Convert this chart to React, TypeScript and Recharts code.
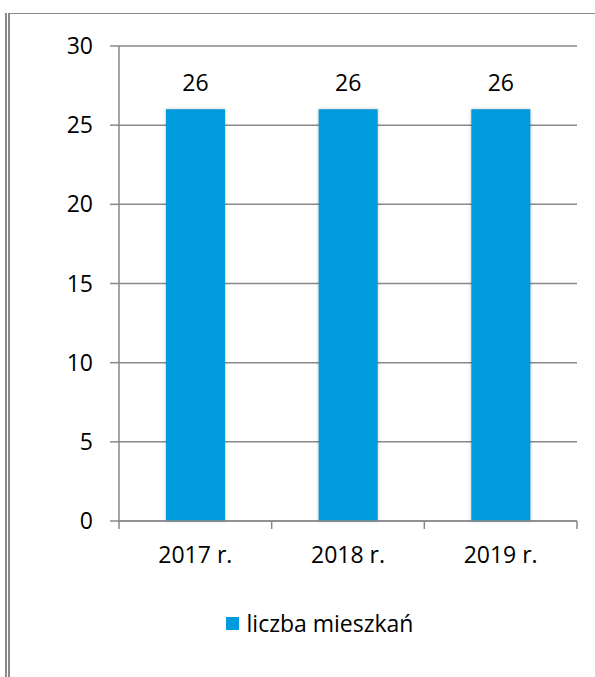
import React from 'react'
import { BarChart, Bar, XAxis, YAxis, CartesianGrid, Legend, LabelList } from 'recharts'

const years = ['2017 r.', '2018 r.', '2019 r.']
const flats = [26, 26, 26]
const yTicks = [0, 5, 10, 15, 20, 25, 30]
const seriesName = 'liczba mieszkań'

const data = years.map((year, i) => ({ year, flats: flats[i] }))

const W = 595
const H = 677
const margin = { top: 46, right: 18, bottom: 34, left: 0 }
const yAxisW = 119
const band = (W - margin.left - margin.right - yAxisW) / years.length

const GRAY = '#898989'
const BLUE = '#009BDD'
const FONT = '"Open Sans", sans-serif'
const FS = 23

const XTick = (props: any) => {
  const { x, y, payload, index } = props
  const axisY = y - 26
  const left = x - band / 2
  const right = x + band / 2
  return (
    <g>
      <line x1={left} x2={left} y1={axisY} y2={axisY + 8} stroke={GRAY} strokeWidth={1.5} />
      {index === years.length - 1 && (
        <line x1={right} x2={right} y1={axisY} y2={axisY + 8} stroke={GRAY} strokeWidth={1.5} />
      )}
      <text x={x} y={y} dy="0.71em" textAnchor="middle" fill="#000" fontSize={FS} fontFamily={FONT}>
        {payload.value}
      </text>
    </g>
  )
}

const LegendBox = () => (
  <div style={{ height: 40, display: 'flex', alignItems: 'center', justifyContent: 'center', paddingLeft: 62, fontFamily: FONT, fontSize: FS, color: '#000' }}>
    <span style={{ display: 'inline-block', width: 13, height: 13, background: BLUE, marginRight: 8 }} />
    <span>{seriesName}</span>
  </div>
)

const App = () => {
  return (
    <div style={{ position: 'absolute', left: 0, top: 0, width: W, height: H, background: '#fff' }}>
      <div style={{ position: 'absolute', left: 5, top: 13, width: 1.5, height: H - 13, background: GRAY }} />
      <div style={{ position: 'absolute', left: 8, top: 13, width: 1.5, height: H - 13, background: GRAY }} />
      <div style={{ position: 'absolute', left: 8, top: 12.5, width: W - 8, height: 1.5, background: GRAY }} />
      <div style={{ position: 'absolute', left: 0, top: 0 }}>
        <BarChart width={W} height={H} data={data} margin={margin}>
          <CartesianGrid vertical={false} stroke={GRAY} strokeWidth={1.5} />
          <XAxis
            dataKey="year"
            stroke={GRAY}
            strokeWidth={1.5}
            tickLine={false}
            tickSize={8}
            tickMargin={18}
            height={82}
            tick={<XTick />}
            interval={0}
          />
          <YAxis
            width={yAxisW}
            domain={[0, 30]}
            ticks={yTicks}
            stroke={GRAY}
            strokeWidth={1.5}
            tickSize={9}
            tickMargin={17}
            tick={{ fill: '#000', fontSize: FS, fontFamily: FONT }}
            tickLine={{ stroke: GRAY, strokeWidth: 1.5 }}
          />
          <Legend verticalAlign="bottom" content={<LegendBox />} />
          <Bar
            dataKey="flats"
            name={seriesName}
            fill={BLUE}
            barSize={59}
            isAnimationActive={false}
            style={{ filter: 'drop-shadow(0px 0px 1.5px rgba(0,0,0,0.3))' }}
          >
            <LabelList dataKey="flats" position="top" offset={18} fill="#000" fontSize={FS} fontFamily={FONT} />
          </Bar>
        </BarChart>
      </div>
    </div>
  )
}

export default App
